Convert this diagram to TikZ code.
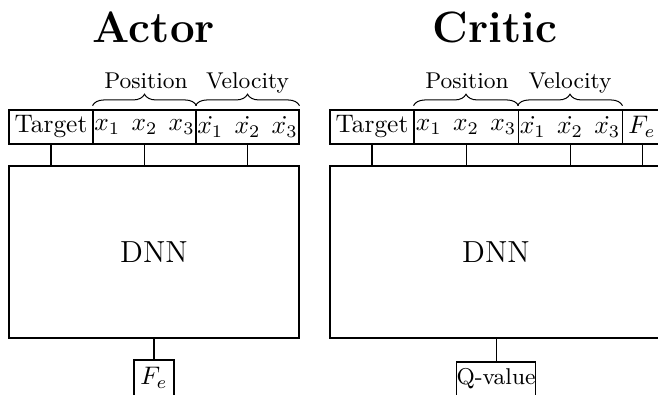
\documentclass[tikz,border=0pt]{standalone}
\usetikzlibrary{decorations.pathreplacing}
\begin{document}
\begin{tikzpicture}[x=0.3937pt,y=-0.3937pt,
  box/.style 2 args={draw, rectangle, inner sep=0pt, minimum width={#1*0.3937pt}, minimum height={#2*0.3937pt}},
  title/.style={font=\LARGE\bfseries, anchor=base},
  lbl/.style={font=\small, anchor=base},
  brc/.style={decorate, decoration={brace, amplitude=4.5pt}}]
\useasboundingbox (0,0) rectangle (658,395);
\clip (0,0) rectangle (658,395);
% ---------- Actor ----------
\node[title] (tA) at (154,43) {Actor};
\node[box={84}{34}] (tgtA) at (51,127) {Target};
\node[box={103}{34}] (posA) at (144.5,127) {$x_1\;\,x_2\;\,x_3$};
\node[box={103}{34}] (velA) at (247.5,127) {$\dot{x_1}\;\,\dot{x_2}\;\,\dot{x_3}$};
\node[box={290}{172}, font=\large] (dnnA) at (154,252) {DNN};
\node[box={40}{36}] (outA) at (154,378) {$F_e$};
\draw[brc] ([yshift=1.5pt]posA.north west) -- ([yshift=1.5pt]posA.north east);
\draw[brc] ([yshift=1.5pt]velA.north west) -- ([yshift=1.5pt]velA.north east);
\node[lbl] (lpA) at (146,89) {Position};
\node[lbl] (lvA) at (247.5,89) {Velocity};
\draw (tgtA.south) -- (tgtA.south |- dnnA.north);
\draw (posA.south) -- (posA.south |- dnnA.north);
\draw (velA.south) -- (velA.south |- dnnA.north);
\draw (dnnA.south) -- (outA.north);
% ---------- Critic ----------
\node[title] (tC) at (495,43) {Critic};
\node[box={84}{34}] (tgtC) at (372,127) {Target};
\node[box={104}{34}] (posC) at (466,127) {$x_1\;\,x_2\;\,x_3$};
\node[box={104}{34}] (velC) at (570,127) {$\dot{x_1}\;\,\dot{x_2}\;\,\dot{x_3}$};
\node[box={40}{34}] (feC) at (642,127) {$F_e$};
\node[box={332}{172}, font=\large] (dnnC) at (496,252) {DNN};
\node[box={79}{34}, font=\small] (outC) at (496,379) {Q-value};
\draw[brc] ([yshift=1.5pt]posC.north west) -- ([yshift=1.5pt]posC.north east);
\draw[brc] ([yshift=1.5pt]velC.north west) -- ([yshift=1.5pt]velC.north east);
\node[lbl] (lpC) at (467,89) {Position};
\node[lbl] (lvC) at (570,89) {Velocity};
\draw (tgtC.south) -- (tgtC.south |- dnnC.north);
\draw (posC.south) -- (posC.south |- dnnC.north);
\draw (velC.south) -- (velC.south |- dnnC.north);
\draw (feC.south) -- (feC.south |- dnnC.north);
\draw (dnnC.south) -- (outC.north);
\end{tikzpicture}
\end{document}
